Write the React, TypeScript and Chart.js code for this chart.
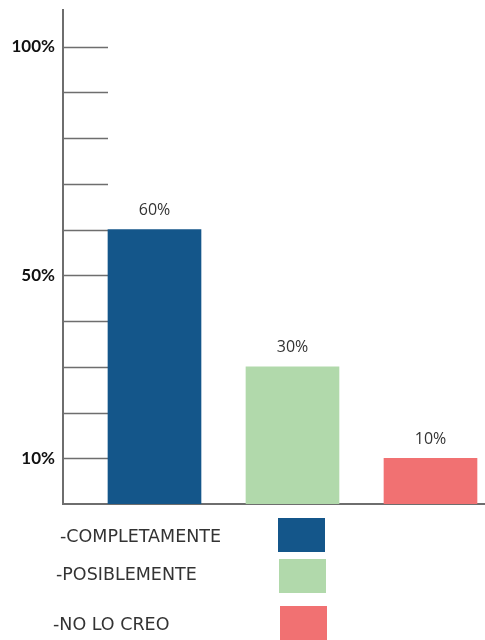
import React, { useEffect, useRef } from "react";
import { Chart, registerables } from "chart.js";

Chart.register(...registerables);

const categories = ["-COMPLETAMENTE", "-POSIBLEMENTE", "-NO LO CREO"];
const values = [60, 30, 10];
const colors = ["#14568a", "#b1d9ab", "#f17172"];
const tickValues = [10, 20, 30, 40, 50, 60, 70, 80, 90, 100];
const labeledTicks = [10, 50, 100];

const AXIS_COLOR = "#6e6e6e";

const customDraw = {
  id: "customDraw",
  beforeDatasetsDraw(chart: any) {
    const { ctx, chartArea, scales } = chart;
    const y = scales.y;
    ctx.save();
    ctx.strokeStyle = AXIS_COLOR;
    ctx.lineWidth = 1.5;
    tickValues.forEach((v) => {
      const py = Math.round(y.getPixelForValue(v)) + 0.5;
      ctx.beginPath();
      ctx.moveTo(chartArea.left, py);
      ctx.lineTo(chartArea.left + 45, py);
      ctx.stroke();
    });
    ctx.restore();
  },
  afterDatasetsDraw(chart: any) {
    const { ctx } = chart;
    const meta = chart.getDatasetMeta(0);
    ctx.save();
    ctx.fillStyle = "#333333";
    ctx.font = "16px 'Open Sans', sans-serif";
    ctx.textAlign = "center";
    ctx.textBaseline = "middle";
    meta.data.forEach((bar: any, i: number) => {
      ctx.fillText(values[i] + "%", bar.x, bar.y - 19);
    });
    // legend
    const rows = [
      { textX: 60, textY: 537, boxX: 278, boxY: 518 },
      { textX: 56, textY: 575, boxX: 279, boxY: 559 },
      { textX: 53, textY: 625, boxX: 280, boxY: 606 },
    ];
    ctx.font = "17.5px 'DejaVu Sans', sans-serif";
    ctx.textAlign = "left";
    ctx.textBaseline = "middle";
    rows.forEach((r, i) => {
      ctx.fillStyle = "#333333";
      ctx.fillText(categories[i], r.textX, r.textY);
      ctx.fillStyle = colors[i];
      ctx.fillRect(r.boxX, r.boxY, 47, 34);
    });
    ctx.restore();
  },
};

export default function App() {
  const ref = useRef<HTMLCanvasElement>(null);
  useEffect(() => {
    if (!ref.current) return;
    const chart = new Chart(ref.current, {
      type: "bar",
      data: {
        datasets: [
          {
            data: values.map((v, i) => ({ x: i, y: v })),
            backgroundColor: colors,
            borderWidth: 0,
            barThickness: 93,
          },
        ],
      },
      options: {
        animation: false,
        responsive: true,
        maintainAspectRatio: false,
        layout: { padding: { top: 10, right: 0, bottom: 136, left: 0 } },
        plugins: { legend: { display: false }, tooltip: { enabled: false } },
        scales: {
          x: {
            type: "linear",
            offset: false,
            min: -0.663,
            max: 2.395,
            grid: { display: false, drawTicks: false, offset: false },
            border: { display: true, color: AXIS_COLOR, width: 2 },
            ticks: { display: false },
            afterFit: (s: any) => {
              s.height = 0;
              s.paddingLeft = 0;
              s.paddingRight = 0;
            },
          },
          y: {
            min: 0,
            max: 108,
            grid: { display: false, drawTicks: false },
            border: { display: true, color: AXIS_COLOR, width: 2 },
            afterBuildTicks: (s: any) => {
              s.ticks = labeledTicks.map((v) => ({ value: v }));
            },
            ticks: {
              padding: 8,
              color: "#111111",
              font: { family: "Lato, sans-serif", size: 17, weight: "bold" },
              callback: (v: any) => v + "%",
            },
            afterFit: (s: any) => {
              s.width = 63;
              s.paddingTop = 0;
              s.paddingBottom = 0;
            },
          },
        },
      },
      plugins: [customDraw],
    });
    return () => chart.destroy();
  }, []);
  return (
    <div style={{ position: "absolute", left: 0, top: 0, width: 485, height: 640 }}>
      <canvas ref={ref} />
    </div>
  );
}
